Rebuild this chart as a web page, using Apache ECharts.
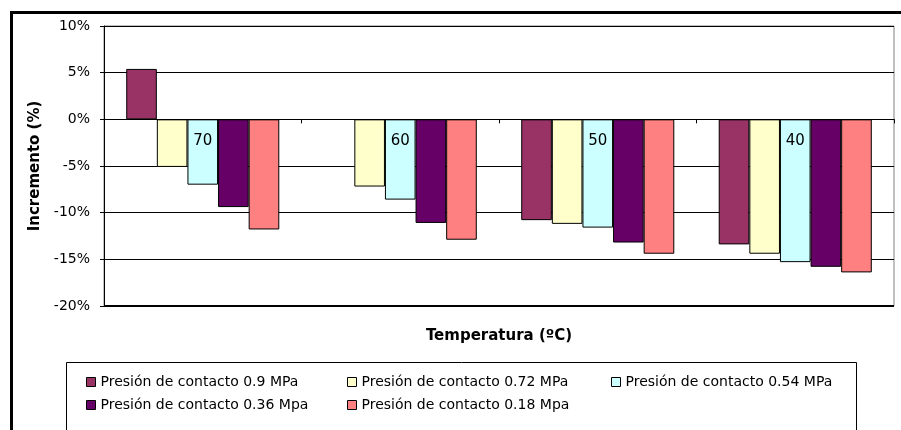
<!DOCTYPE html>
<html>
<head>
<meta charset="utf-8">
<script src="https://cdn.jsdelivr.net/npm/echarts@6/dist/echarts.min.js"></script>
<style>
  html, body { margin: 0; padding: 0; background: #fff; }
  #chart { width: 901px; height: 430px; }
</style>
</head>
<body>
<div id="chart"></div>
<script>
// Temperature groups (ºC) and percentage change per contact pressure
const temperatures = ['70', '60', '50', '40'];
const seriesNames = [
  'Presión de contacto 0.9 MPa',
  'Presión de contacto 0.72 MPa',
  'Presión de contacto 0.54 MPa',
  'Presión de contacto 0.36 Mpa',
  'Presión de contacto 0.18 Mpa'
];
const p090 = [5.4, null, -10.8, -13.4];
const p072 = [-5.1, -7.2, -11.2, -14.4];
const p054 = [-7.0, -8.6, -11.6, -15.3];
const p036 = [-9.4, -11.1, -13.2, -15.8];
const p018 = [-11.8, -12.9, -14.4, -16.4];
const yTicks = { min: -20, max: 10, step: 5 };

const colors = ['#993366', '#FFFFCC', '#CCFFFF', '#660066', '#FF8080'];
const values = [p090, p072, p054, p036, p018];
const FONT = '"DejaVu Sans", "Liberation Sans", Arial, sans-serif';

// plot area box (pixels inside the 901x430 canvas)
const G = { left: 104, right: 7, top: 26, bottom: 124 };
const W = 901, H = 430;
const plotBottom = H - G.bottom;
const plotHeight = plotBottom - G.top;
// distance from the top of the plot down to the 0% level
const zeroDrop = plotHeight * (yTicks.max - 0) / (yTicks.max - yTicks.min);

const chart = echarts.init(document.getElementById('chart'), null, { renderer: 'canvas' });

const legendText = { fontFamily: FONT, fontSize: 14, color: '#000' };
function legendColumn(names, left) {
  return {
    data: names, orient: 'vertical', left: left, top: 375, padding: 0,
    itemGap: 9, itemWidth: 9, itemHeight: 9, icon: 'rect',
    itemStyle: { borderColor: '#000', borderWidth: 1 },
    textStyle: legendText, selectedMode: false
  };
}

chart.setOption({
  animation: false,
  backgroundColor: '#fff',
  textStyle: { fontFamily: FONT },
  title: {
    text: 'Temperatura (ºC)', left: (G.left + (W - G.right)) / 2, textAlign: 'center', top: 329, padding: 0,
    textStyle: { fontFamily: FONT, fontSize: 15, fontWeight: 'bold', color: '#000' }
  },
  graphic: [
    { type: 'rect', z: -10, shape: { x: 11.5, y: 12.5, width: 1000, height: 1000 },
      style: { fill: '#fff', stroke: '#000', lineWidth: 3 } },
    { type: 'rect', z: -5, shape: { x: 66.5, y: 362.5, width: 790, height: 100 },
      style: { fill: '#fff', stroke: '#000', lineWidth: 1 } },
    // heavier bottom edge of the plot area
    { type: 'line', z: 50, shape: { x1: G.left, y1: plotBottom, x2: W - G.right, y2: plotBottom },
      style: { stroke: '#000', lineWidth: 2 } }
  ],
  legend: [
    legendColumn([seriesNames[0], seriesNames[3]], 86),
    legendColumn([seriesNames[1], seriesNames[4]], 347),
    legendColumn([seriesNames[2]], 611)
  ],
  grid: { left: G.left, right: G.right, top: G.top, bottom: G.bottom, show: true, borderColor: '#808080', borderWidth: 1 },
  // category axis sits on the 0% line, labels hang just below it
  xAxis: {
    type: 'category', data: temperatures, z: 10,
    position: 'top', offset: -zeroDrop,
    axisLine: { onZero: false, lineStyle: { color: '#000', width: 1 } },
    axisTick: { show: true, inside: true, length: 4, lineStyle: { color: '#000' } },
    axisLabel: { inside: true, fontFamily: FONT, fontSize: 15, color: '#000', margin: 14 }
  },
  yAxis: {
    type: 'value', min: yTicks.min, max: yTicks.max, interval: yTicks.step,
    name: 'Incremento (%)', nameLocation: 'middle', nameGap: 61,
    nameTextStyle: { fontFamily: FONT, fontSize: 15, fontWeight: 'bold', color: '#000' },
    axisLine: { show: true, lineStyle: { color: '#000' } },
    axisTick: { show: true, length: 4, lineStyle: { color: '#000' } },
    axisLabel: { fontFamily: FONT, fontSize: 14, color: '#000', margin: 14, formatter: '{value}%' },
    splitLine: { show: true, lineStyle: { color: '#000', width: 1 } }
  },
  series: values.map((v, i) => ({
    name: seriesNames[i], type: 'bar', data: v,
    barGap: '0%', barCategoryGap: '22.5%',
    itemStyle: { color: colors[i], borderColor: '#000', borderWidth: 1 }
  }))
});
</script>
</body>
</html>
